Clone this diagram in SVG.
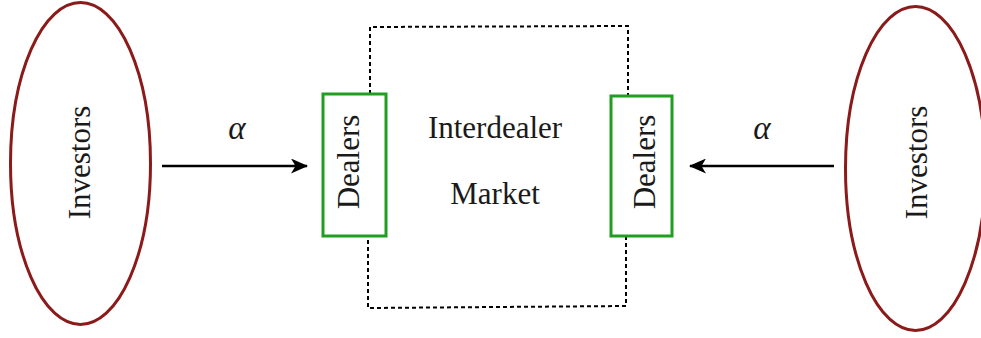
<svg xmlns="http://www.w3.org/2000/svg" width="981" height="338" viewBox="0 0 981 338">
<style>
.inv{fill:none;stroke:#8b1a1a;stroke-width:3}
.dl{fill:#fff;stroke:#1f9e1f;stroke-width:3}
.txt{font-family:"Liberation Serif","Times New Roman",serif;font-size:31px;fill:#1a1a1a}
.al{font-family:"Liberation Serif","Times New Roman",serif;font-style:italic;font-size:33px;fill:#1a1a1a}
.dash{fill:none;stroke:#000;stroke-width:2;stroke-dasharray:4 3}
.arr{fill:none;stroke:#000;stroke-width:2.3}
</style>
<defs>
<marker id="ah" markerWidth="17" markerHeight="15" refX="16" refY="7.5" orient="auto" markerUnits="userSpaceOnUse">
<path d="M0,0 L17,7.5 L0,15 L4.5,7.5 Z" fill="#000"/>
</marker>
</defs>
<g id="market">
<path class="dash" d="M370,94 L370,27 L628,26 L628,96 M626,236 L626,306 L368,308 L368,236"/>
<text class="txt" x="495" y="138" text-anchor="middle">Interdealer</text>
<text class="txt" x="495" y="204" text-anchor="middle">Market</text>
</g>
<g id="investors-left">
<ellipse class="inv" cx="80.5" cy="163.5" rx="70" ry="161"/>
<text class="txt" transform="translate(90,162.5) rotate(-90)" text-anchor="middle">Investors</text>
</g>
<g id="investors-right">
<ellipse class="inv" cx="915.5" cy="168.5" rx="70" ry="162"/>
<text class="txt" transform="translate(927,162.5) rotate(-90)" text-anchor="middle">Investors</text>
</g>
<g id="dealers-left">
<rect class="dl" x="323" y="94" width="63" height="142"/>
<text class="txt" transform="translate(359,162) rotate(-90)" text-anchor="middle">Dealers</text>
</g>
<g id="dealers-right">
<rect class="dl" x="611" y="96" width="61" height="140"/>
<text class="txt" transform="translate(655,162) rotate(-90)" text-anchor="middle">Dealers</text>
</g>
<g id="connectors">
<line class="arr" x1="162" y1="166" x2="307" y2="166" marker-end="url(#ah)"/>
<text class="al" x="237" y="139" text-anchor="middle">α</text>
<line class="arr" x1="834" y1="166" x2="690" y2="166" marker-end="url(#ah)"/>
<text class="al" x="762" y="139" text-anchor="middle">α</text>
</g>
</svg>
